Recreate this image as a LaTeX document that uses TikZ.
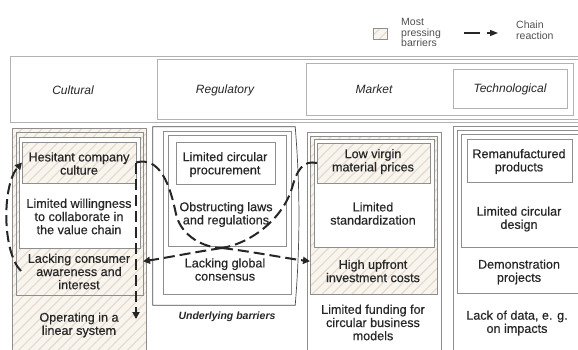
\documentclass[tikz,border=0pt]{standalone}
\usepackage{fontspec}
\setmainfont{Liberation Sans}
\newfontfamily\boxfont[FakeBold=0.35]{Liberation Sans}
\usetikzlibrary{patterns.meta,arrows.meta,calc}

\definecolor{frame}{HTML}{8E8E8E}
\definecolor{framelight}{HTML}{B2B2B2}
\definecolor{framedark}{HTML}{4A4A4A}
\definecolor{ink}{HTML}{262626}
\definecolor{hatchbg}{HTML}{F8F4EE}
\definecolor{hatchln}{HTML}{E6D8CB}
\definecolor{chain}{HTML}{262626}

\tikzset{
  boxfr/.style={draw=frame, line width=0.6pt, rectangle, inner sep=0pt, outer sep=0pt},
  hdrfr/.style={draw=framelight, line width=0.6pt, rectangle, inner sep=0pt, outer sep=0pt},
  pressing/.style={preaction={fill=hatchbg},
    pattern={Lines[angle=45,distance=7pt,line width=1.1pt]}, pattern color=hatchln},
  blank/.style={fill=white},
  txt/.style={text=ink, align=center, inner sep=0pt,
    font=\boxfont\fontsize{12.6}{13.2}\selectfont},
  hdr/.style={text=ink, inner sep=0pt, font=\fontsize{12}{14}\selectfont\itshape},
  legtxt/.style={text=ink!80, align=left, inner sep=0pt,
    font=\fontsize{10.5}{10.6}\selectfont},
  chainln/.style={draw=chain, line width=2pt, dash pattern=on 11pt off 5pt},
  chainarr/.style={chainln, -{Triangle[length=7pt,width=7pt]}},
}

% box given by its corners: name, style, x1, y1, x2, y2
\newcommand{\barbox}[6]{%
  \node[#2, minimum width={(#5-#3)*1pt}, minimum height={(#6-#4)*1pt}]
    (#1) at ({(#3+#5)/2},{(#4+#6)/2}) {};}

\begin{document}
\begin{tikzpicture}[x=1pt, y=-1pt]
\path[use as bounding box] (0,0) rectangle (578,349);
\clip (0,0) rectangle (578,349);
\fill[white] (0,0) rectangle (578,349);

% ---- legend
\node[boxfr, pressing, minimum width=14pt, minimum height=11pt] (legsw) at (380,33.5) {};
\node[legtxt, anchor=west] (legpress) at (401,32.5) {Most\\pressing\\barriers};
\coordinate (legA) at (464,33);
\coordinate (legB) at (498,33);
\draw[draw=chain, line width=1.3pt, dash pattern=on 16pt off 7pt,
      -{Triangle[length=8pt,width=6pt]}] (legA) -- (legB);
\node[legtxt, anchor=west] (legchain) at (516,30.5) {Chain\\reaction};

% ---- header row of nested categories
\barbox{h1}{hdrfr}{10}{56}{590}{122}
\barbox{h2}{hdrfr}{157}{59}{585}{119}
\barbox{h3}{hdrfr}{306}{63}{573}{115}
\barbox{h4}{hdrfr}{453}{69}{567}{108}
\node[hdr] (hcult) at (73,90) {Cultural};
\node[hdr] (hreg)  at (225,90) {Regulatory};
\node[hdr] (hmark) at (374,89) {Market};
\node[hdr] (htech) at (510,89) {Technological};

% ---- cultural column
\barbox{c4}{boxfr,pressing}{12}{128}{146}{360}
\barbox{c3}{boxfr,pressing}{16}{132}{143}{295}
\barbox{c2}{boxfr,blank}{19}{137}{140}{248}
\barbox{c1}{boxfr,pressing}{22}{142}{136}{183}
\node[txt] (tc1) at (79,163.5) {Hesitant company\\culture};
\node[txt] (tc2) at (79,216.5) {Limited willingness\\to collaborate in\\the value chain};
\node[txt] (tc3) at (79,271.5) {Lacking consumer\\awareness and\\interest};
\node[txt] (tc4) at (79,325) {Operating in a\\linear system};

% ---- regulatory column
\node[rectangle, inner sep=0pt, minimum width=142pt, minimum height=178pt]
  (r4) at (224,216) {};
\draw[draw=framedark, line width=0.7pt]
  (r4.north west) -- (r4.north east)
  .. controls ($(r4.north east)+(5,60)$) and ($(r4.south east)+(5,-60)$) .. (r4.south east)
  -- (r4.south west) -- cycle;
\barbox{r3}{boxfr,blank}{163}{131}{291}{294}
\barbox{r2}{boxfr,blank}{168}{135}{286}{246}
\barbox{r1}{boxfr,blank}{176}{142}{275}{184}
\node[txt] (tr1) at (225,164.5) {Limited circular\\procurement};
\node[txt] (tr2) at (226,214.5) {Obstructing laws\\and regulations};
\node[txt] (tr3) at (225,269.5) {Lacking global\\consensus};
\node[text=ink, inner sep=0pt, font=\fontsize{10.5}{12}\selectfont\bfseries\itshape]
  (under) at (227,317) {Underlying barriers};

% ---- market column
\barbox{m4}{boxfr,blank}{307}{132}{441}{360}
\barbox{m3}{boxfr,pressing}{310}{136}{437}{294}
\barbox{m2}{boxfr,blank}{314}{139}{434}{247}
\barbox{m1}{boxfr,pressing}{317}{143}{430}{183}
\node[txt] (tm1) at (373,161.5) {Low virgin\\material prices};
\node[txt] (tm2) at (373,213.5) {Limited\\standardization};
\node[txt] (tm3) at (373,271) {High upfront\\investment costs};
\node[txt] (tm4) at (373,322.5) {Limited funding for\\circular business\\models};

% ---- technological column
\barbox{t4}{boxfr,blank}{453}{126}{590}{360}
\barbox{t3}{boxfr,blank}{457}{130}{586}{293}
\barbox{t2}{boxfr,blank}{461}{134}{582}{247}
\barbox{t1}{boxfr,blank}{467}{139}{572}{182}
\node[txt] (tt1) at (519,161.5) {Remanufactured\\products};
\node[txt] (tt2) at (519,219) {Limited circular\\design};
\node[txt] (tt3) at (519,272) {Demonstration\\projects};
\node[txt] (tt4) at (517,323) {Lack of data, e. g.\\on impacts};

% ---- chain reactions
\coordinate (apex) at (222,248);
\coordinate (loopst) at (21,271);
\coordinate (vend) at (136,319);
\draw[chainln] (c1.east) .. controls (160,156) and (170,185) .. (176,214)
  .. controls (181,236) and (204,248) .. (apex);
\draw[chainln] (m1.west) .. controls (303,160) and (297,170) .. (292,188)
  .. controls (283,218) and (252,243) .. (apex);
\draw[chainarr] (apex) .. controls (195,252) and (165,258) .. (c3.-37);
\draw[chainarr] (apex) .. controls (255,252) and (290,259) .. (m3.216);
\draw[chainarr] (loopst) .. controls (2,252) and (2,185) .. (c1.west);
\draw[chainarr] (c1.east) -- (vend);
\end{tikzpicture}
\end{document}
